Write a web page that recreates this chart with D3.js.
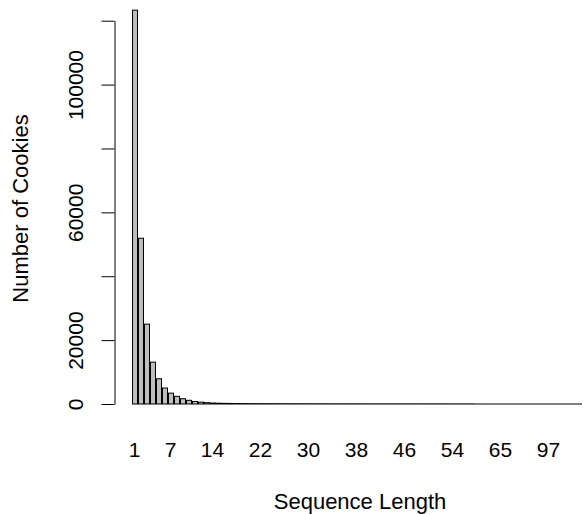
<!DOCTYPE html>
<html>
<head>
<meta charset="utf-8">
<script src="https://cdn.jsdelivr.net/npm/d3@7"></script>
<style>
  body { margin: 0; background: white; }
  text { font-family: "Liberation Sans", Arial, Helvetica, sans-serif; fill: black; }
</style>
</head>
<body>
<svg id="board"></svg>
<script>

// sequence lengths that occur (bar names)
var lengths = [
  1, 2, 3, 4, 5, 6, 7, 8, 9, 10, 11, 12, 13, 14, 15, 16, 17, 18, 19, 20,
  21, 22, 23, 24, 25, 26, 27, 28, 29, 30, 31, 32, 33, 34, 35, 36, 37, 38, 39, 40,
  41, 42, 43, 44, 45, 46, 47, 48, 49, 50, 51, 52, 53, 54,
  55, 56, 57, 58, 60, 61, 63, 65, 67, 70, 72, 75, 80, 86, 91, 97,
  103, 112, 128, 150, 204
]

// number of cookies per sequence length
var cookies = [
  123300, 51900, 25000, 13100, 7900, 5000, 3400, 2400, 1650, 1150,
  800, 580, 420, 310, 240, 200, 170, 150, 135, 125,
  115, 108, 102, 96, 91, 87, 83, 80, 77, 74,
  72, 70, 68, 66, 64, 62, 60, 58, 57, 56,
  55, 54, 53, 52, 51, 50, 49, 48, 47, 46,
  45, 44, 43, 42, 41, 40, 39, 2, 2, 1,
  1, 1, 1, 1, 1, 1, 1, 1, 1, 1,
  1, 1, 1, 1, 1
]

// R only prints the names that do not overlap
var xShownLabels = ["1", "7", "14", "22", "30", "38", "46", "54", "65", "97"]

var yTicks = [0, 20000, 40000, 60000, 80000, 100000, 120000]
var yShownLabels = [0, 20000, 60000, 100000]

var WIDTH = 583
var HEIGHT = 514
var FONT = 21

var vis = d3.select("#board")
  .attr("width", WIDTH)
  .attr("height", HEIGHT)

var data = lengths.map(function(len, i) {
  return {name: String(len), count: cookies[i]}
})

var x = d3.scaleBand()
  .domain(data.map(function(d) { return d.name }))
  .range([114, 599])
  .paddingInner(1 / 6)
  .paddingOuter(3)

var y = d3.scaleLinear()
  .domain([0, 120000])
  .range([404, 20.7])

function drawBars() {
  vis.selectAll(".bar")
    .data(data)
  .enter().append("rect")
    .attr("class", "bar")
    .attr("fill", "#bebebe")
    .attr("stroke", "black")
    .attr("stroke-width", 1)
    .attr("x", function(d) { return x(d.name) + 0.5 })
    .attr("y", function(d) { return y(d.count) })
    .attr("width", x.bandwidth())
    .attr("height", function(d) { return y(0) - y(d.count) })
}

function drawYAxis() {
  var axis = d3.axisLeft(y)
    .tickValues(yTicks)
    .tickSize(13)
    .tickSizeOuter(0)
    .tickFormat(function(v) {
      return yShownLabels.indexOf(v) >= 0 ? String(v) : ""
    })

  var g = vis.append("g")
    .attr("class", "yaxis")
    .attr("transform", "translate(114.5,0)")
    .call(axis)

  g.select(".domain").attr("stroke", "black")
  g.selectAll(".tick line").attr("stroke", "black")
  // rotated labels, like R's default las = 0
  g.selectAll(".tick text")
    .attr("x", null)
    .attr("dy", null)
    .attr("transform", "translate(-32,0) rotate(-90)")
    .attr("text-anchor", "middle")
    .attr("font-size", FONT)
    .attr("font-family", null)
    .attr("fill", "black")
}

function drawXLabels() {
  vis.selectAll(".xlabel")
    .data(data.filter(function(d) { return xShownLabels.indexOf(d.name) >= 0 }))
  .enter().append("text")
    .attr("class", "xlabel")
    .attr("text-anchor", "middle")
    .attr("font-size", FONT)
    .attr("x", function(d) { return x(d.name) + x.bandwidth() / 2 })
    .attr("y", 457)
    .text(function(d) { return d.name })
}

function drawTitles() {
  vis.append("text")
    .attr("text-anchor", "middle")
    .attr("font-size", 22)
    .attr("x", 360)
    .attr("y", 509)
    .text("Sequence Length")

  vis.append("text")
    .attr("text-anchor", "middle")
    .attr("font-size", 22)
    .attr("transform", "translate(28,208.5) rotate(-90)")
    .text("Number of Cookies")
}

drawBars()
drawYAxis()
drawXLabels()
drawTitles()

</script>
</body>
</html>
